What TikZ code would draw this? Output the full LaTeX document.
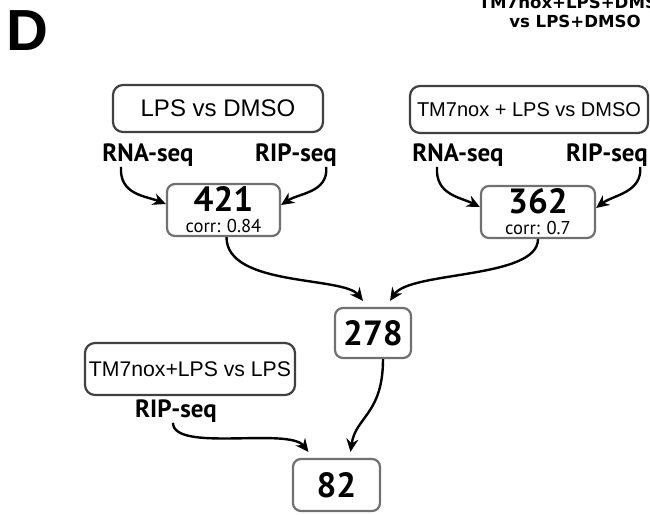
\documentclass[tikz,border=0pt]{standalone}
\usepackage{fontspec}
\setmainfont{Liberation Sans}
\newfontfamily\dinfont{PT Sans}
\newfontfamily\widefont{DejaVu Sans}
\usepackage{tikz}
\usetikzlibrary{arrows.meta}
\definecolor{boxdark}{RGB}{64,64,64}
\definecolor{boxgray}{RGB}{112,112,112}

\tikzset{
  condbox/.style={draw=boxdark, line width=1.1pt, rounded corners=5pt, inner sep=0pt,
    minimum width=105pt, minimum height=23.5pt},
  numbox/.style={draw=boxgray, line width=1.1pt, rounded corners=4pt, inner sep=0pt,
    minimum height=26pt, align=center},
  seqlabel/.style={inner sep=0pt, font=\dinfont\bfseries\fontsize{12.5}{13}\selectfont},
  flow/.style={-{Stealth[length=6.5pt,width=6pt]}, line width=1.2pt},
}
\newcommand{\bignum}{\dinfont\bfseries\fontsize{17.5}{18}\selectfont}
\newcommand{\corrtxt}{\dinfont\fontsize{9.3}{9}\selectfont}

\begin{document}
\begin{tikzpicture}[x=0.5pt, y=-0.5pt]
    \useasboundingbox (0,0) rectangle (650,515);
    \clip (0,0) rectangle (650,515);

    % panel letter and comparison title
    \node[inner sep=0pt, font=\bfseries\fontsize{29}{29}\selectfont] (panel) at (27,31) {D};
    \node[inner sep=0pt, align=center, font=\widefont\bfseries\fontsize{8.3}{9.5}\selectfont] (title) at (575,12)
        {TM7nox+LPS+DMSO\\vs LPS+DMSO};

    % condition boxes
    \node[condbox, font=\fontsize{12}{12}\selectfont] (lps) at (218,108.5) {LPS vs DMSO};
    \node[condbox, minimum width=119pt, font=\fontsize{10}{10}\selectfont] (tmlps) at (529,109.5) {TM7nox + LPS vs DMSO};
    \node[condbox, minimum height=26pt, font=\fontsize{10.6}{10.6}\selectfont] (tmvslps) at (190,369) {TM7nox+LPS vs LPS};

    % seq labels
    \node[seqlabel] (rnaL) at (148,155) {RNA-seq};
    \node[seqlabel] (ripL) at (296,155) {RIP-seq};
    \node[seqlabel] (rnaR) at (458,155) {RNA-seq};
    \node[seqlabel] (ripR) at (607,155) {RIP-seq};
    \node[seqlabel] (ripB) at (176,411) {RIP-seq};

    % overlap counts
    \node[numbox, minimum width=56.5pt] (n421) at (223.5,210) {{\bignum 421}\\[-1.5pt]{\corrtxt corr: 0.84}};
    \node[numbox, minimum width=57pt] (n362) at (538,212) {{\bignum 362}\\[-1.5pt]{\corrtxt corr: 0.7}};
    \node[numbox, minimum width=38pt, minimum height=25pt] (n278) at (373,333) {\bignum 278};
    \node[numbox, minimum width=43.5pt] (n82) at (336.5,485) {\bignum 82};

    % arrows
    \draw[flow] ([xshift=9.5pt]rnaL.south west) .. controls +(-2,28) and +(-20,-8) .. ([yshift=3pt]n421.west);
    \draw[flow] ([xshift=-5.5pt]ripL.south east) .. controls +(2,26) and +(18,-12) .. ([yshift=2.5pt]n421.east);
    \draw[flow] ([xshift=12.5pt]rnaR.south west) .. controls +(-2,28) and +(-20,-10) .. ([yshift=2.5pt]n362.west);
    \draw[flow] ([xshift=-4pt]ripR.south east) .. controls +(2,26) and +(17,-13) .. ([yshift=2pt]n362.east);
    \draw[flow] ([xshift=1.5pt]n421.south) .. controls +(0,50) and +(-20,-25) .. ([xshift=-5pt,yshift=3pt]n278.north);
    \draw[flow] (n362.south) .. controls +(0,40) and +(20,-30) .. ([xshift=8.5pt,yshift=3pt]n278.north);
    \draw[flow] ([xshift=5pt]n278.south) .. controls +(0,55) and +(5,-35) .. ([xshift=7pt,yshift=3pt]n82.north);
    \draw[flow] ([xshift=-1.5pt]ripB.south) .. controls +(0,30) and +(-20,-25) .. ([xshift=-14pt,yshift=3pt]n82.north);
\end{tikzpicture}
\end{document}
